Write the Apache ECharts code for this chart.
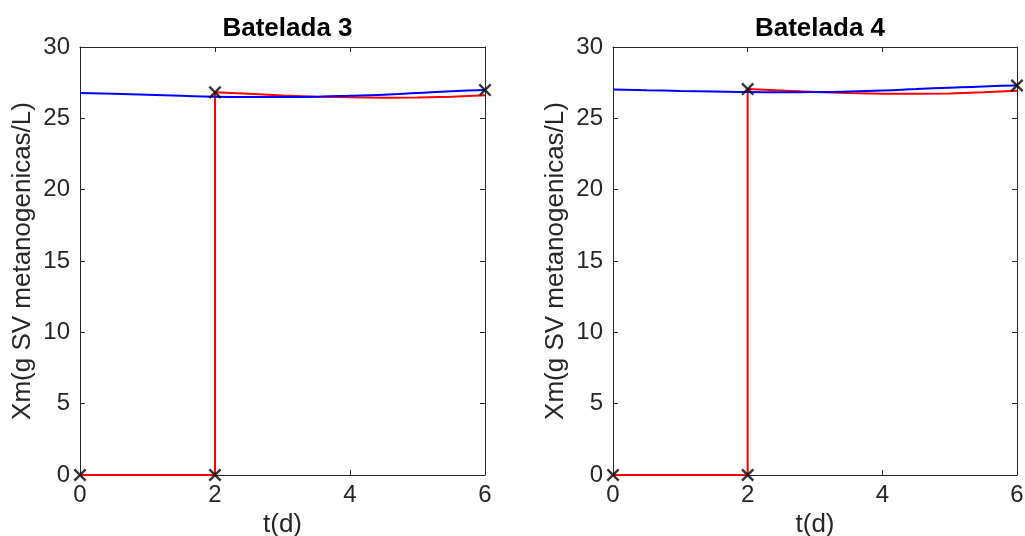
<!DOCTYPE html>
<html>
<head>
<meta charset="utf-8">
<script src="https://cdn.jsdelivr.net/npm/echarts@6/dist/echarts.min.js"></script>
<style>html,body{margin:0;padding:0;background:#fff}#c{width:1025px;height:536px}</style>
</head>
<body>
<div id="c"></div>
<script>
// ---- data ----
var titles = ['Batelada 3', 'Batelada 4'];
var xTicks = [0, 2, 4, 6];
var yTicks = [0, 5, 10, 15, 20, 25, 30];
// x positions for curves
var tCurve = [0, 0.5, 1, 1.5, 2, 2.5, 3, 3.5, 4, 4.5, 5, 5.5, 6];
var tModel = [2, 2.5, 3, 3.5, 4, 4.5, 5, 5.5, 6];
// Batelada 3
var blue3 = [26.78, 26.72, 26.65, 26.58, 26.52, 26.5, 26.5, 26.52, 26.58, 26.66, 26.78, 26.9, 26.98];
var red3 = [26.82, 26.72, 26.6, 26.52, 26.47, 26.45, 26.46, 26.52, 26.62];
var redStart3 = [[0, 0], [2, 0]];
var marks3 = [[0, 0], [2, 0], [2, 26.82], [6, 26.98]];
// Batelada 4
var blue4 = [27.02, 26.97, 26.92, 26.88, 26.84, 26.83, 26.84, 26.88, 26.95, 27.05, 27.15, 27.24, 27.3];
var red4 = [27.05, 26.95, 26.85, 26.78, 26.73, 26.72, 26.74, 26.82, 26.93];
var redStart4 = [[0, 0], [2, 0]];
var marks4 = [[0, 0], [2, 0], [2, 27.05], [6, 27.3]];

var blues = [blue3, blue4], reds = [red3, red4], redStarts = [redStart3, redStart4], marks = [marks3, marks4];

var axColor = '#262626';
var font = 'Liberation Sans, Arial, Helvetica, sans-serif';
var xSym = 'path://M0,1.3L1.3,0L5,3.7L8.7,0L10,1.3L6.3,5L10,8.7L8.7,10L5,6.3L1.3,10L0,8.7L3.7,5Z';

var grids = [
  {left: 80, top: 47, width: 405, height: 428, containLabel: false, outerBoundsMode: 'none'},
  {left: 613, top: 47, width: 404, height: 428, containLabel: false, outerBoundsMode: 'none'}
];
var option = {
  animation: false,
  backgroundColor: '#fff',
  title: [], grid: grids, xAxis: [], yAxis: [], series: []
};
function mk(extra, i) {
  var base = {
    type: 'value', gridIndex: i,
    axisLine: {show: true, onZero: false, lineStyle: {color: axColor, width: 1}},
    axisTick: {show: true, inside: true, length: 5, lineStyle: {color: axColor}},
    splitLine: {show: false}
  };
  return Object.assign(base, extra);
}
for (var i = 0; i < 2; i++) {
  option.title.push({
    text: titles[i], left: grids[i].left + grids[i].width / 2, top: 11, textAlign: 'center',
    textStyle: {fontFamily: font, fontSize: 26, fontWeight: 'bold', color: '#000'}
  });
  option.xAxis.push(mk({
    position: 'bottom', min: 0, max: 6, interval: 2,
    axisLabel: {fontFamily: font, fontSize: 24, color: axColor, margin: 8,
      formatter: function (v) { return xTicks.indexOf(v) >= 0 ? String(v) : ''; }},
    name: 't(d)', nameLocation: 'middle', nameGap: 36,
    nameTextStyle: {fontFamily: font, fontSize: 26, color: axColor}
  }, i));
  option.xAxis.push(mk({
    position: 'top', min: 0, max: 6, interval: 2, axisLabel: {show: false}
  }, i));
  option.yAxis.push(mk({
    position: 'left', min: 0, max: 30, interval: 5,
    axisLabel: {fontFamily: font, fontSize: 24, color: axColor, margin: 10,
      formatter: function (v) { return yTicks.indexOf(v) >= 0 ? String(v) : ''; }},
    name: 'Xm(g SV metanogenicas/L)', nameLocation: 'middle', nameGap: 44,
    nameTextStyle: {fontFamily: font, fontSize: 26, color: axColor}
  }, i));
  option.yAxis.push(mk({
    position: 'right', min: 0, max: 30, interval: 5, axisLabel: {show: false}
  }, i));
  var xi = i * 2, yi = i * 2;
  var redData = redStarts[i].concat(tModel.map(function (t, k) { return [t, reds[i][k]]; }));
  var blueData = tCurve.map(function (t, k) { return [t, blues[i][k]]; });
  option.series.push({
    type: 'line', xAxisIndex: xi, yAxisIndex: yi, data: redData, showSymbol: false, symbol: 'none',
    lineStyle: {color: '#ff0000', width: 2}, smooth: false, z: 2
  });
  option.series.push({
    type: 'line', xAxisIndex: xi, yAxisIndex: yi, data: blueData, showSymbol: false, symbol: 'none',
    lineStyle: {color: '#0000ff', width: 2}, smooth: true, z: 3
  });
  option.series.push({
    type: 'scatter', xAxisIndex: xi, yAxisIndex: yi, data: marks[i], symbol: xSym, symbolSize: 13,
    itemStyle: {color: '#000'}, z: 5
  });
}
var chart = echarts.init(document.getElementById('c'), null, {renderer: 'canvas'});
chart.setOption(option);
</script>
</body>
</html>
